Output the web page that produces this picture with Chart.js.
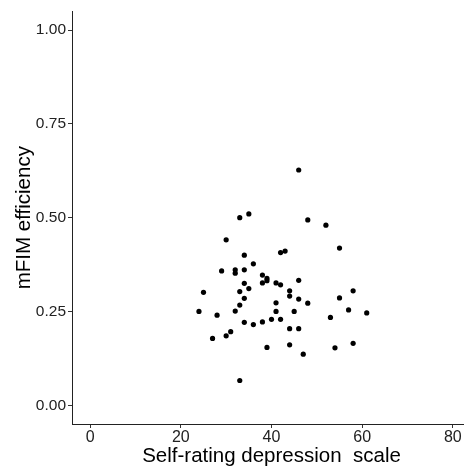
<!DOCTYPE html>
<html>
<head>
<meta charset="utf-8">
<script src="https://cdn.jsdelivr.net/npm/chart.js@4"></script>
<style>
  html, body { margin: 0; padding: 0; background: #fff; overflow: hidden; }
  #wrap { width: 480px; height: 472px; }
</style>
</head>
<body>
<div id="wrap"><canvas id="c" width="480" height="472"></canvas></div>
<script>
// Self-rating depression scale (x) vs mFIM efficiency (y)
const sdsScores = [46, 33, 35, 48, 52, 30, 55, 34, 42, 43, 36, 29, 32, 32, 34, 38, 39, 39, 46, 34,
                   38, 41, 42, 25, 33, 35, 44, 44, 46, 34, 48, 55, 58, 41, 33, 45, 41, 32, 28, 24,
                   57, 61, 53, 34, 36, 38, 40, 42, 44, 46, 31, 30, 27, 39, 44, 47, 54, 58, 33];
const mfimEfficiency = [0.627, 0.500, 0.510, 0.494, 0.480, 0.441, 0.419, 0.400, 0.407, 0.411, 0.377, 0.358, 0.361, 0.352, 0.361, 0.347, 0.338, 0.332, 0.333, 0.325,
                        0.326, 0.326, 0.321, 0.301, 0.303, 0.311, 0.305, 0.291, 0.283, 0.285, 0.272, 0.286, 0.305, 0.273, 0.267, 0.250, 0.250, 0.251, 0.240, 0.250,
                        0.254, 0.246, 0.234, 0.221, 0.215, 0.222, 0.229, 0.229, 0.204, 0.204, 0.196, 0.185, 0.178, 0.154, 0.161, 0.136, 0.153, 0.165, 0.066];
const xTicks = [0, 20, 40, 60, 80];
const yTicks = [0, 0.25, 0.5, 0.75, 1.0];
const xTitle = 'Self-rating depression  scale';
const yTitle = 'mFIM efficiency';

const points = sdsScores.map((x, i) => ({ x: x, y: mfimEfficiency[i] }));
const FONT = "'Liberation Sans', Arial, sans-serif";

new Chart(document.getElementById('c'), {
  type: 'scatter',
  data: {
    datasets: [{
      data: points,
      backgroundColor: '#000',
      borderColor: '#000',
      borderWidth: 0,
      pointRadius: 2.6,
      pointHoverRadius: 2.6
    }]
  },
  options: {
    responsive: false,
    animation: false,
    devicePixelRatio: 1,
    layout: { padding: { top: 9.5, right: 9, bottom: 0, left: 0 } },
    plugins: { legend: { display: false }, tooltip: { enabled: false } },
    scales: {
      x: {
        type: 'linear',
        min: -4, max: 84,
        afterBuildTicks: s => { s.ticks = xTicks.map(v => ({ value: v })); },
        afterFit: s => { s.height = 48; },
        grid: { display: true, drawOnChartArea: false, drawTicks: true, tickLength: 4, tickColor: '#333', tickWidth: 1 },
        border: { display: true, color: '#222', width: 1 },
        ticks: { color: '#222', padding: 0, maxRotation: 0, font: { family: FONT, size: 16 } },
        title: { display: true, text: xTitle, color: '#000', padding: { top: 0, bottom: 3.5 }, font: { family: FONT, size: 20.5 } }
      },
      y: {
        type: 'linear',
        min: -0.05, max: 1.05,
        afterBuildTicks: s => { s.ticks = yTicks.map(v => ({ value: v })); },
        afterFit: s => { s.width = 72; },
        grid: { display: true, drawOnChartArea: false, drawTicks: true, tickLength: 4, tickColor: '#333', tickWidth: 1 },
        border: { display: true, color: '#222', width: 1 },
        ticks: { color: '#222', padding: 2, font: { family: FONT, size: 15.5 }, callback: v => Number(v).toFixed(2) },
        title: { display: true, text: yTitle, color: '#000', padding: { top: 12, bottom: 0 }, font: { family: FONT, size: 20.5 } }
      }
    }
  }
});
</script>
</body>
</html>
